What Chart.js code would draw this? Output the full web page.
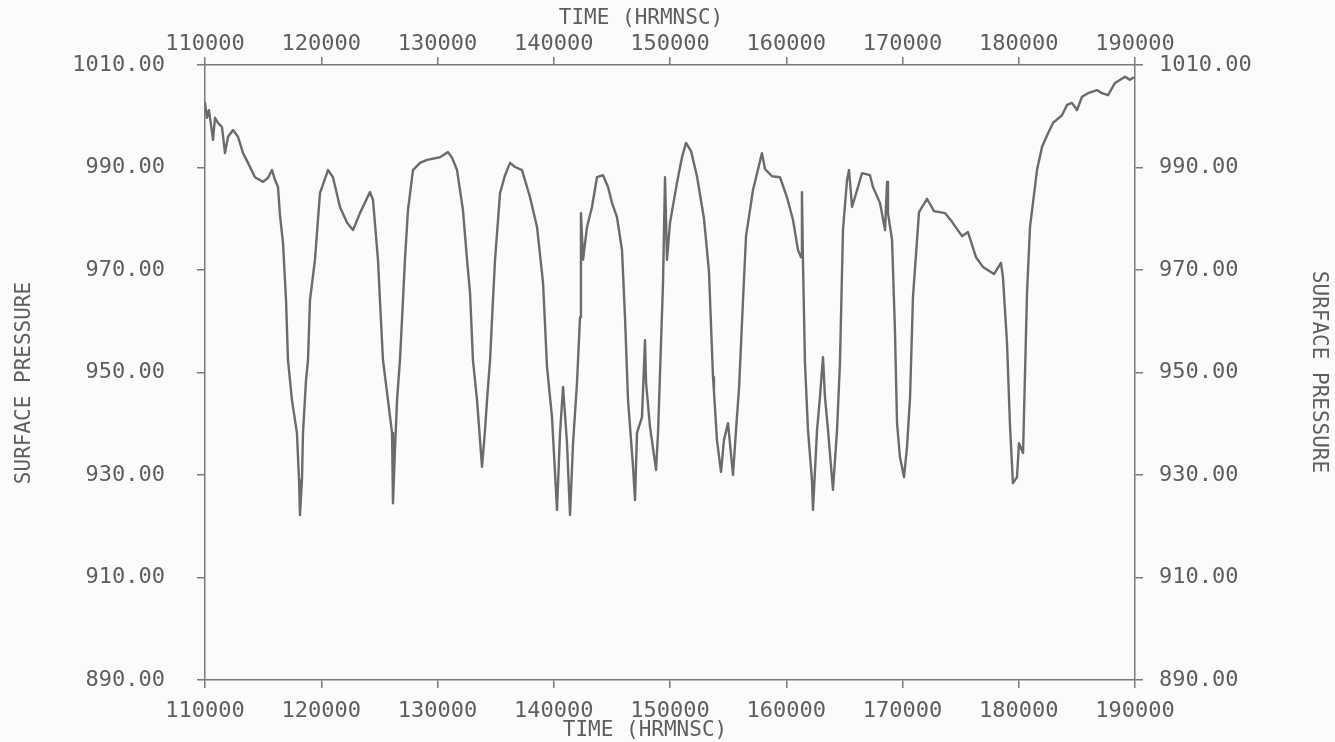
<!DOCTYPE html>
<html>
<head>
<meta charset="utf-8">
<title>Surface pressure</title>
<script src="https://cdn.jsdelivr.net/npm/chart.js@4.4.1/dist/chart.umd.min.js"></script>
<style>
  html, body { margin: 0; padding: 0; background: #fbfbfa; }
  #wrap { width: 1335px; height: 742px; position: relative; }
</style>
</head>
<body>
<div id="wrap"><canvas id="chart"></canvas></div>
<script>
// time axis (HRMNSC) and surface pressure
const timeValues = [
  110000, 110170, 110340, 110520, 110690, 110860, 111120, 111460, 111720, 111980,
  112410, 112840, 113270, 113700, 114300, 114990, 115420, 115760, 116020, 116280,
  116450, 116710, 116970, 117140, 117480, 117910, 118090, 118170, 118340, 118430,
  118690, 118860, 119030, 119460, 119890, 120580, 121010, 121610, 122220, 122730,
  123330, 124190, 124450, 124880, 125050, 125310, 125740, 126090, 126170, 126340,
  126520, 126770, 127030, 127200, 127460, 127890, 128490, 129100, 130210, 130900,
  131250, 131680, 132190, 132540, 132800, 133050, 133400, 133830, 134090, 134260,
  134520, 134770, 134950, 135380, 135810, 136240, 136670, 137270, 137960, 138560,
  139080, 139420, 139850, 140280, 140540, 140800, 141140, 141400, 141660, 142000,
  142260, 142340, 142520, 142860, 143290, 143720, 144240, 144670, 145010, 145440,
  145870, 146130, 146390, 146820, 146990, 147160, 147590, 147850, 147940, 148280,
  148800, 148970, 149400, 149570, 149740, 150000, 150600, 151030, 151380, 151810,
  152320, 152920, 153350, 153700, 153780, 154040, 154390, 154640, 154990, 155420,
  155680, 155940, 156280, 156540, 157140, 157910, 158170, 158770, 159460, 160060,
  160580, 161010, 161270, 161350, 161440, 161610, 161870, 162210, 162300, 162650,
  162900, 163160, 163330, 163590, 164020, 164370, 164620, 164880, 165230, 165400,
  165660, 165910, 166520, 167200, 167460, 168060, 168500, 168670, 168750, 169100,
  169350, 169530, 169780, 170130, 170390, 170650, 170900, 171420, 172110, 172710,
  173650, 174260, 175120, 175630, 176320, 176920, 177870, 178470, 178640, 178990,
  179250, 179500, 179850, 180020, 180370, 180710, 180970, 181570, 182000, 182520,
  182950, 183720, 184150, 184580, 185010, 185440, 185960, 186730, 187160, 187680,
  188280, 189140, 189570, 189830
];
const pressureValues = [
  1002.6, 999.7, 1001.2, 998.3, 995.4, 999.7, 998.7, 997.9, 992.8, 996.0,
  997.3, 996.0, 992.8, 990.9, 988.1, 987.2, 988.0, 989.5, 987.6, 986.2,
  980.7, 975.3, 964.1, 952.4, 944.6, 938.2, 929.0, 922.2, 929.0, 938.2,
  948.5, 952.4, 964.1, 972.0, 985.0, 989.5, 988.1, 982.3, 979.2, 977.8,
  981.1, 985.2, 983.7, 972.0, 964.1, 952.4, 944.6, 938.2, 924.5, 934.9,
  944.6, 952.4, 964.1, 972.0, 981.7, 989.5, 990.9, 991.5, 992.0, 993.0,
  991.9, 989.5, 981.7, 972.0, 965.5, 952.4, 944.6, 931.6, 938.8, 944.6,
  952.4, 964.1, 972.0, 985.0, 988.5, 990.9, 990.1, 989.5, 984.2, 978.4,
  967.5, 951.1, 941.3, 923.2, 938.2, 947.2, 936.2, 922.2, 936.2, 948.0,
  960.8, 981.1, 972.0, 978.4, 982.3, 988.1, 988.5, 986.2, 983.1, 980.3,
  973.9, 960.8, 944.6, 931.6, 925.1, 938.2, 941.3, 956.3, 948.0, 939.4,
  931.0, 938.2, 967.5, 988.1, 972.0, 979.2, 987.0, 992.0, 994.8, 993.2,
  988.3, 980.1, 969.8, 949.1, 946.4, 936.8, 930.6, 936.8, 940.1, 930.0,
  938.8, 947.0, 964.1, 976.6, 985.6, 992.8, 989.7, 988.3, 988.1, 984.2,
  979.8, 973.9, 972.5, 985.2, 971.4, 951.9, 938.8, 929.0, 923.2, 938.8,
  945.2, 953.0, 945.2, 938.8, 927.1, 938.8, 951.9, 977.8, 987.6, 989.5,
  982.3, 984.2, 988.9, 988.5, 986.2, 983.1, 977.8, 987.2, 981.1, 975.9,
  958.3, 940.1, 933.5, 929.6, 935.5, 945.2, 964.7, 981.3, 983.9, 981.5,
  981.1, 979.4, 976.6, 977.4, 972.5, 970.6, 969.2, 971.4, 968.6, 955.8,
  939.4, 928.4, 929.6, 936.2, 934.3, 965.5, 978.4, 989.5, 994.0, 996.7,
  998.7, 1000.2, 1002.2, 1002.6, 1001.2, 1003.8, 1004.5, 1005.1, 1004.5, 1004.1,
  1006.5, 1007.7, 1007.1, 1007.5
];
const timeTicks = [110000, 120000, 130000, 140000, 150000, 160000, 170000, 180000, 190000];
const pressureTicks = [890, 910, 930, 950, 970, 990, 1010];

const axisTitle = 'TIME (HRMNSC)';
const valueTitle = 'SURFACE PRESSURE';

const ink = '#5e5e5e';
const lineInk = '#6b6b6b';
const plotFont = '"DejaVu Sans Mono", monospace';

const points = timeValues.map((t, i) => ({ x: t, y: pressureValues[i] }));

// the four axis titles sit where the plotter put them, not centred on the axes
const axisTitles = {
  id: 'axisTitles',
  afterDraw(chart) {
    const ctx = chart.ctx;
    ctx.save();
    ctx.fillStyle = ink;
    ctx.font = '21px ' + plotFont;
    ctx.textAlign = 'center';
    ctx.textBaseline = 'middle';
    ctx.fillText(axisTitle, 641, 19);
    ctx.fillText(axisTitle, 645, 731);
    ctx.save();
    ctx.translate(25, 383);
    ctx.rotate(-Math.PI / 2);
    ctx.fillText(valueTitle, 0, 0);
    ctx.restore();
    ctx.translate(1318, 372);
    ctx.rotate(Math.PI / 2);
    ctx.fillText(valueTitle, 0, 0);
    ctx.restore();
  }
};

function timeAxis(position, size, pad) {
  return {
    type: 'linear',
    position: position,
    min: 110000,
    max: 190000,
    afterBuildTicks: s => { s.ticks = timeTicks.map(v => ({ value: v })); },
    afterFit: s => { s.height = size; },
    border: { display: true, color: '#7a7a7a', width: 1.5 },
    grid: { drawOnChartArea: false, drawTicks: true, tickLength: 8, tickColor: '#7a7a7a', lineWidth: 1.5 },
    ticks: {
      color: ink,
      font: { family: plotFont, size: 22 },
      padding: pad,
      maxRotation: 0,
      autoSkip: false,
      callback: v => String(v)
    }
  };
}

function pressureAxis(position, size, pad) {
  return {
    type: 'linear',
    position: position,
    min: 890,
    max: 1010,
    afterBuildTicks: s => { s.ticks = pressureTicks.map(v => ({ value: v })); },
    afterFit: s => { s.width = size; },
    border: { display: true, color: '#7a7a7a', width: 1.5 },
    grid: { drawOnChartArea: false, drawTicks: true, tickLength: 8, tickColor: '#7a7a7a', lineWidth: 1.5 },
    ticks: {
      color: ink,
      font: { family: plotFont, size: 22 },
      padding: pad,
      autoSkip: false,
      callback: v => Number(v).toFixed(2)
    }
  };
}

new Chart(document.getElementById('chart'), {
  type: 'line',
  data: {
    datasets: [{
      label: valueTitle,
      data: points,
      xAxisID: 'x',
      yAxisID: 'y',
      borderColor: lineInk,
      borderWidth: 2.4,
      borderJoinStyle: 'round',
      borderCapStyle: 'round',
      pointRadius: 0,
      tension: 0,
      fill: false
    }]
  },
  options: {
    responsive: true,
    maintainAspectRatio: false,
    animation: false,
    layout: { padding: 0 },
    plugins: {
      legend: { display: false },
      tooltip: { enabled: false },
      title: { display: false }
    },
    scales: {
      x: timeAxis('bottom', 62, 10),
      x2: timeAxis('top', 65, 0),
      y: pressureAxis('left', 205, 32),
      y2: pressureAxis('right', 200, 16)
    }
  },
  plugins: [axisTitles]
});
</script>
</body>
</html>
